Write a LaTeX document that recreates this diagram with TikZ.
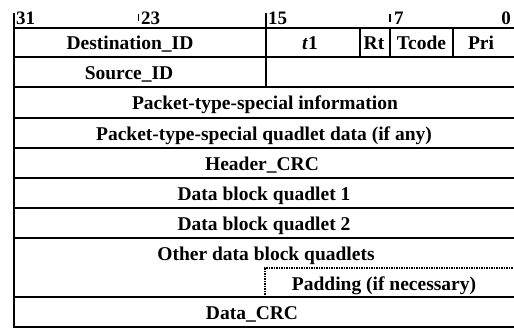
\documentclass[tikz,border=0pt]{standalone}
\usepackage{fontspec}
\setmainfont{Liberation Serif}
\begin{document}
\begin{tikzpicture}[x=1pt,y=-1pt,
  rule/.style={line width=1.9pt},
  padline/.style={line width=1.2pt,dash pattern=on 1.5pt off 1pt},
  cell/.style={anchor=base,inner sep=0pt,font=\fontsize{19.5}{22}\selectfont\bfseries},
  bitno/.style={anchor=base west,inner sep=0pt,font=\fontsize{19}{22}\selectfont\bfseries}]
\useasboundingbox (0,0) rectangle (514,329);

% bit numbers above the first quadlet
\node[bitno] (b31) at (16,25) {31};
\node[bitno] (b23) at (141,25) {23};
\node[bitno] (b15) at (268,25) {15};
\node[bitno] (b7)  at (394,25) {7};
\node[bitno,anchor=base east] (b0) at (511,25) {0};
\draw[rule] (138.5,14) -- (138.5,21);
\draw[rule] (390,14) -- (390,22);

% outer frame and full-width row rules
\draw[rule] (14,13) -- (14,327) -- (514,327);
\foreach \y in {28,87,118,148,178,208,238,297}
  \draw[rule] (14,\y) -- (514,\y);
% first quadlet: field dividers
\draw[rule] (14,57) -- (514,57);
\draw[rule] (266,13) -- (266,87);
\draw[rule] (360,28) -- (360,57);
\draw[rule] (390,28) -- (390,57);
\draw[rule] (453,28) -- (453,57);
% padding area in the last data quadlet
\draw[padline] (265,297) -- (265,268) -- (514,268);

% field names
\node[cell] (dst) at (130,50) {Destination\_ID};
\node[cell] (tl) at (310,50) {\textit{t}1};
\node[cell] (rt) at (374,50) {Rt};
\node[cell] (tc) at (421.5,50) {Tcode};
\node[cell] (pri) at (481,50) {Pri};
\node[cell] (src) at (129,80) {Source\_ID};
\node[cell] (pinfo) at (265,110) {Packet-type-special information};
\node[cell] (pdata) at (264,140.5) {Packet-type-special quadlet data (if any)};
\node[cell] (hcrc) at (262,170.5) {Header\_CRC};
\node[cell] (db1) at (264,200.5) {Data block quadlet 1};
\node[cell] (db2) at (264,230.5) {Data block quadlet 2};
\node[cell] (dbo) at (266,260.5) {Other data block quadlets};
\node[cell] (pad) at (384,290) {Padding (if necessary)};
\node[cell] (dcrc) at (252,319.5) {Data\_CRC};
\end{tikzpicture}
\end{document}
